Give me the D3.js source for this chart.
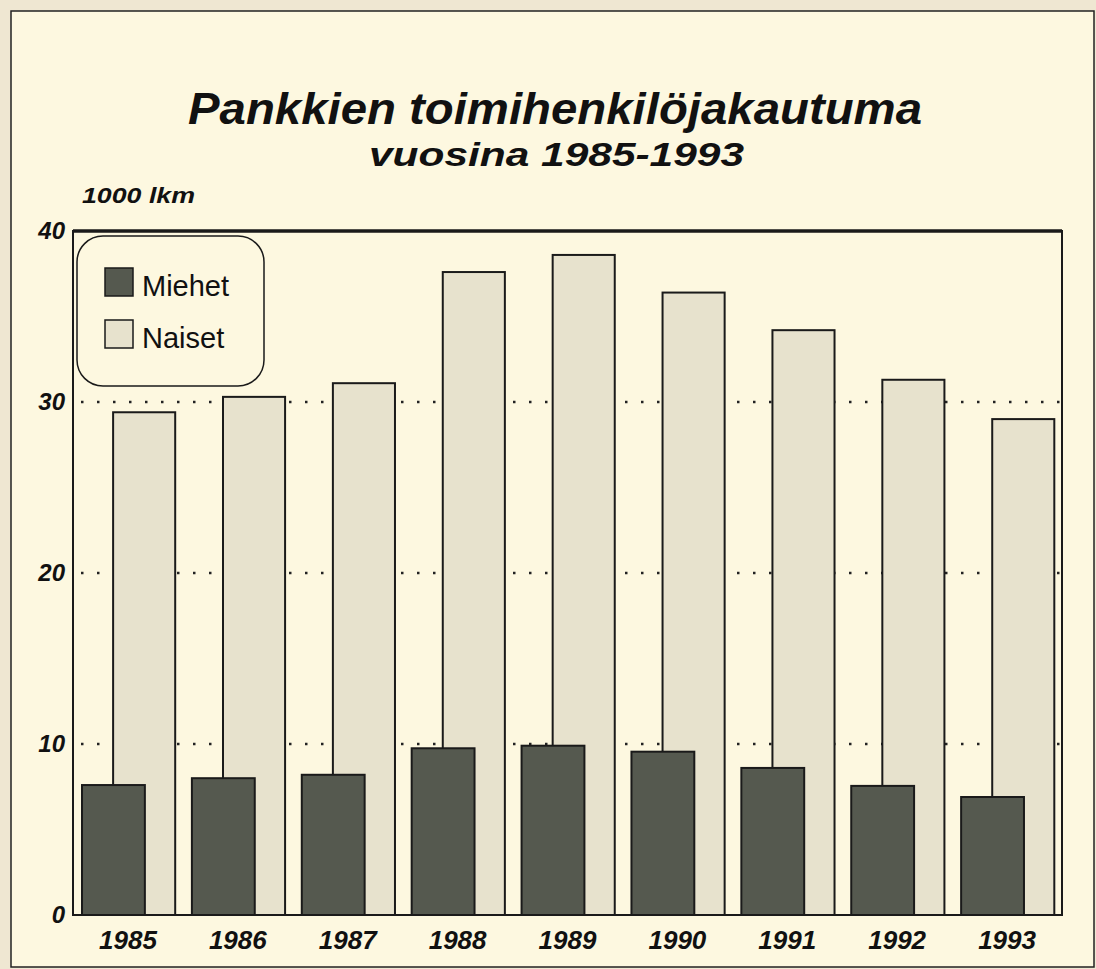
<!DOCTYPE html>
<html>
<head>
<meta charset="utf-8">
<script src="https://cdn.jsdelivr.net/npm/d3@7"></script>
<style>
  body { margin: 0; background: #efe7d2; }
  svg { display: block; }
  .otsikko { font-family: "Liberation Sans", Arial, sans-serif; font-weight: bold; font-style: italic; fill: #111; }
  .akseli text { font-family: "Liberation Sans", Arial, sans-serif; font-weight: bold; font-style: italic; fill: #111; }
  .selite text { font-family: "Liberation Sans", Arial, sans-serif; fill: #111; }
</style>
</head>
<body>
<script>
// vuodet ja arvot (1000 henkilöä)
var vuodet = ["1985", "1986", "1987", "1988", "1989", "1990", "1991", "1992", "1993"];
var miehet = [7.6, 8.0, 8.2, 9.75, 9.9, 9.55, 8.6, 7.55, 6.9];
var naiset = [29.4, 30.3, 31.1, 37.6, 38.6, 36.4, 34.2, 31.3, 29.0];
var yTikit = [0, 10, 20, 30, 40];
var sarjat = ["Miehet", "Naiset"];

var vis = {
    leveys: 1096,
    korkeus: 969,
    vasen: 73,
    oikea: 1062,
    yla: 231,
    ala: 915,
    tumma: "#55594f",
    vaalea: "#e7e2cd",
    tausta: "#fdf8e0"
};

var svg = d3.select("body")
    .append("svg")
    .attr("width", vis.leveys)
    .attr("height", vis.korkeus);

// paperi ja kehys
svg.append("rect")
    .attr("x", 11).attr("y", 11)
    .attr("width", 1083).attr("height", 956)
    .attr("fill", vis.tausta)
    .attr("stroke", "#222")
    .attr("stroke-width", 1.5);

// otsikko, leveys sovitettu kuvaan
svg.append("text")
    .attr("class", "otsikko")
    .attr("x", 188).attr("y", 124)
    .attr("textLength", 734)
    .attr("lengthAdjust", "spacingAndGlyphs")
    .style("font-size", "45px")
    .text("Pankkien toimihenkilöjakautuma");
svg.append("text")
    .attr("class", "otsikko")
    .attr("x", 369).attr("y", 166)
    .attr("textLength", 375)
    .attr("lengthAdjust", "spacingAndGlyphs")
    .style("font-size", "34px")
    .text("vuosina 1985-1993");

var x = d3.scaleBand()
    .domain(vuodet)
    .range([vis.vasen, vis.oikea]);

var y = d3.scaleLinear()
    .domain([0, 40])
    .range([vis.ala, vis.yla]);

var bw = x.bandwidth();

// katkoviivat
svg.append("g")
    .selectAll("line")
    .data(yTikit.filter(function(d) { return d > 0 && d < 40; }))
    .enter()
    .append("line")
    .attr("x1", vis.vasen + 8)
    .attr("x2", vis.oikea)
    .attr("y1", function(d) { return y(d); })
    .attr("y2", function(d) { return y(d); })
    .attr("stroke", "#222")
    .attr("stroke-width", 2.5)
    .attr("stroke-dasharray", "2.5,13.5");

// naiset (taempana)
svg.append("g")
    .selectAll("rect")
    .data(naiset)
    .enter()
    .append("rect")
    .attr("x", function(d, i) { return x(vuodet[i]) + bw * 0.365; })
    .attr("y", function(d) { return y(d); })
    .attr("width", bw * 0.565)
    .attr("height", function(d) { return y(0) - y(d); })
    .attr("fill", vis.vaalea)
    .attr("stroke", "#1a1a1a")
    .attr("stroke-width", 2);

// miehet (edessä)
svg.append("g")
    .selectAll("rect")
    .data(miehet)
    .enter()
    .append("rect")
    .attr("x", function(d, i) { return x(vuodet[i]) + bw * 0.082; })
    .attr("y", function(d) { return y(d); })
    .attr("width", bw * 0.572)
    .attr("height", function(d) { return y(0) - y(d); })
    .attr("fill", vis.tumma)
    .attr("stroke", "#1a1a1a")
    .attr("stroke-width", 2);

// kuvaajan reunat
svg.append("rect")
    .attr("x", vis.vasen).attr("y", vis.yla)
    .attr("width", vis.oikea - vis.vasen)
    .attr("height", vis.ala - vis.yla)
    .attr("fill", "none")
    .attr("stroke", "#1a1a1a")
    .attr("stroke-width", 2);
svg.append("line")
    .attr("x1", vis.vasen).attr("x2", vis.oikea)
    .attr("y1", vis.yla).attr("y2", vis.yla)
    .attr("stroke", "#1a1a1a")
    .attr("stroke-width", 3.5);

// y-akseli
var yAkseli = d3.axisLeft(y)
    .tickValues(yTikit)
    .tickSize(0)
    .tickPadding(8);
var gy = svg.append("g")
    .attr("class", "akseli")
    .attr("transform", "translate(" + vis.vasen + ",0)")
    .call(yAkseli);
gy.select(".domain").remove();
gy.selectAll("text").style("font-size", "24px");

// x-akseli
var xAkseli = d3.axisBottom(x)
    .tickSize(0)
    .tickPadding(16);
var gx = svg.append("g")
    .attr("class", "akseli")
    .attr("transform", "translate(0," + vis.ala + ")")
    .call(xAkseli);
gx.select(".domain").remove();
gx.selectAll("text").style("font-size", "26px").attr("dy", "0.71em");

// yksikkö
svg.append("text")
    .attr("class", "otsikko")
    .attr("x", 82).attr("y", 203)
    .attr("textLength", 113)
    .attr("lengthAdjust", "spacingAndGlyphs")
    .style("font-size", "22px")
    .text("1000 lkm");

// selite
var selite = svg.append("g").attr("class", "selite");
selite.append("rect")
    .attr("x", 77).attr("y", 236)
    .attr("width", 187).attr("height", 150)
    .attr("rx", 26).attr("ry", 26)
    .attr("fill", vis.tausta)
    .attr("stroke", "#1a1a1a")
    .attr("stroke-width", 1.5);
var rivit = selite.selectAll("g.rivi")
    .data(sarjat)
    .enter()
    .append("g")
    .attr("class", "rivi")
    .attr("transform", function(d, i) { return "translate(105," + (268 + i * 52) + ")"; });
rivit.append("rect")
    .attr("width", 28).attr("height", 28)
    .attr("fill", function(d, i) { return i === 0 ? vis.tumma : vis.vaalea; })
    .attr("stroke", "#1a1a1a")
    .attr("stroke-width", 1.5);
rivit.append("text")
    .attr("x", 37).attr("y", 28)
    .style("font-size", "29px")
    .text(function(d) { return d; });
</script>
</body>
</html>
